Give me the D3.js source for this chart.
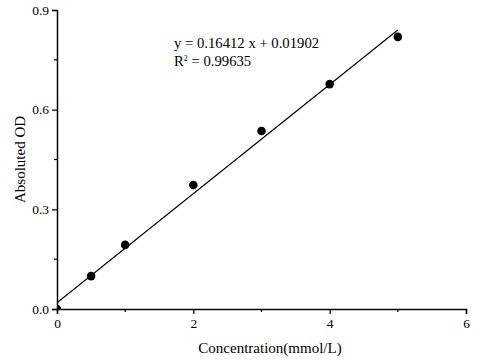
<!DOCTYPE html>
<html><head><meta charset="utf-8">
<script src="https://cdn.jsdelivr.net/npm/d3@7"></script>
<style>body{margin:0;background:#fff}svg{display:block}text{font-family:"Liberation Serif","Times New Roman",serif;fill:#000}</style>
</head><body><svg id="c" width="480" height="360"></svg>
<script>
const concentration = [0, 0.5, 1, 2, 3, 4, 5];
const absorbance = [0.0, 0.099, 0.193, 0.373, 0.536, 0.677, 0.819];
const slope = 0.16412, intercept = 0.01902, r2 = 0.99635;
const xTicks = [0, 2, 4, 6];
const yTicks = [0.0, 0.3, 0.6, 0.9];
const xMinor = [1, 3, 5];
const yMinor = [0.15, 0.45, 0.75];

const svg = d3.select("#c");
const m = {l: 57, r: 14, t: 10, b: 51};
const W = 480, H = 360;
const x = d3.scaleLinear().domain([0, 6]).range([m.l, W - m.r]);
const y = d3.scaleLinear().domain([0, 0.9]).range([H - m.b, m.t]);

svg.append("clipPath").attr("id", "clip").append("rect")
  .attr("x", x(0)).attr("y", y(0.9)).attr("width", x(6) - x(0)).attr("height", y(0) - y(0.9));

const g = svg.append("g").attr("clip-path", "url(#clip)");
g.append("line")
  .attr("x1", x(0)).attr("y1", y(intercept))
  .attr("x2", x(5)).attr("y2", y(slope * 5 + intercept))
  .attr("stroke", "#000").attr("stroke-width", 1.2);
g.selectAll("circle").data(concentration).join("circle")
  .attr("cx", d => x(d)).attr("cy", (d, i) => y(absorbance[i]))
  .attr("r", 4.3).attr("fill", "#000");

// axes
const xAxis = d3.axisBottom(x).tickValues(xTicks).tickFormat(d3.format("d")).tickSize(5).tickPadding(4);
const yAxis = d3.axisLeft(y).tickValues(yTicks).tickFormat(d3.format(".1f")).tickSize(5).tickPadding(3);
const gx = svg.append("g").attr("transform", `translate(0,${y(0)})`).call(xAxis);
const gy = svg.append("g").attr("transform", `translate(${x(0)},0)`).call(yAxis);
[gx, gy].forEach(a => {
  a.select(".domain").attr("stroke-width", 1.5);
  a.selectAll(".tick line").attr("stroke-width", 1.2);
  a.selectAll("text").attr("font-size", 13.5).style("font-family", '"Liberation Serif",serif');
});
gx.append("g").selectAll("line").data(xMinor).join("line")
  .attr("x1", d => x(d)).attr("x2", d => x(d)).attr("y1", 0).attr("y2", 3)
  .attr("stroke", "#000").attr("stroke-width", 1.2);
gy.append("g").selectAll("line").data(yMinor).join("line")
  .attr("y1", d => y(d)).attr("y2", d => y(d)).attr("x1", 0).attr("x2", -3)
  .attr("stroke", "#000").attr("stroke-width", 1.2);

// labels
svg.append("text").attr("x", 270).attr("y", 353).attr("text-anchor", "middle")
  .attr("font-size", 15).text("Concentration(mmol/L)");
svg.append("text").attr("transform", `translate(25,${(y(0) + y(0.9)) / 2}) rotate(-90)`)
  .attr("text-anchor", "middle").attr("font-size", 15).text("Absoluted OD");

svg.append("text").attr("x", 174).attr("y", 48).attr("font-size", 14.7)
  .text(`y = ${slope} x + ${intercept.toFixed(5)}`);
const t2 = svg.append("text").attr("x", 174).attr("y", 66).attr("font-size", 14.7);
t2.append("tspan").text("R");
t2.append("tspan").attr("dy", -5).attr("font-size", 8).text("2");
t2.append("tspan").attr("dy", 5).text(` = ${r2}`);
</script></body></html>
